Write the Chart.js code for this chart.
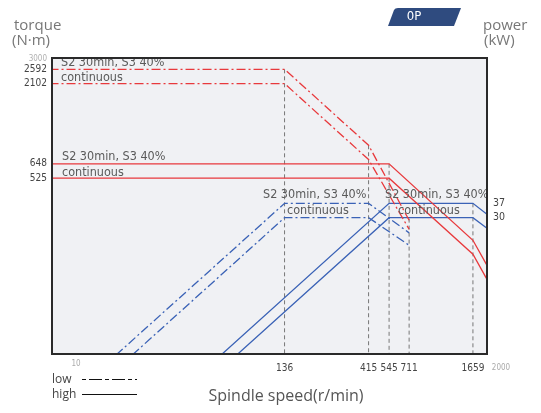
<!DOCTYPE html>
<html>
<head>
<meta charset="utf-8">
<script src="https://cdn.jsdelivr.net/npm/chart.js@4.4.1/dist/chart.umd.min.js"></script>
<style>
  html, body { margin: 0; padding: 0; background: #fff; }
  #wrap { width: 541px; height: 413px; position: relative; }
</style>
</head>
<body>
<div id="wrap"><canvas id="spindleChart"></canvas></div>
<script>
// tick labels
const speedTicks = [136, 415, 545, 711, 1659];
const speedEndLabels = [10, 2000];
const torqueTicks = [3000, 2592, 2102, 648, 525];
const powerTicks = [37, 30];

// low gear torque (dash-dot)
const lowTorqueSpeeds = [6, 136, 415, 711];
const lowS2Torque = [2592, 2592, 851, 283];
const lowContTorque = [2102, 2102, 690, 248];

// high gear torque (solid)
const highTorqueSpeeds = [6, 545, 1659, 2000];
const highS2Torque = [648, 648, 211, 146];
const highContTorque = [525, 525, 172, 119];

// power curves
const lowS2PowerSpeeds = [14.5, 136, 415, 711];
const lowS2Power = [4, 37, 37, 24];
const lowContPowerSpeeds = [18, 136, 415, 711];
const lowContPower = [4, 30, 30, 20];
const highS2PowerSpeeds = [58.5, 545, 1659, 2000];
const highS2Power = [4, 37, 37, 31.5];
const highContPowerSpeeds = [72, 545, 1659, 2000];
const highContPower = [4, 30, 30, 25.7];

// dashed guide lines (speed, torque at top end)
const guideSpeeds = [136, 415, 545, 711, 1659];
const guideTops = [2592, 851, 648, 290, 363];

const torqueMin = 39.8, torqueMax = 3060;
const powerMin = 4.06, powerMax = 312;
const speedMin = 6.2, speedMax = 2000;

const RED = '#e8393c';
const BLUE = '#3a62b6';
const DASHDOT = [9, 3, 2, 3];
const COND = '"DejaVu Sans Condensed", "DejaVu Sans", sans-serif';
const SANS = '"Open Sans", "Noto Sans", sans-serif';

function pts(xs, ys) {
    return xs.map((x, i) => ({ x: x, y: ys[i] }));
}

function curve(xs, ys, color, axis, dashed) {
    return {
        data: pts(xs, ys),
        yAxisID: axis,
        borderColor: color,
        borderWidth: 1.3,
        borderDash: dashed ? DASHDOT : [],
        pointRadius: 0,
        tension: 0,
        fill: false
    };
}

const guides = guideSpeeds.map((s, i) => ({
    data: [{ x: s, y: guideTops[i] }, { x: s, y: torqueMin }],
    yAxisID: 'y',
    borderColor: '#777',
    borderWidth: 1,
    borderDash: [4, 3],
    pointRadius: 0,
    fill: false
}));

const notes = [
    ['S2 30min, S3 40%', 61, 63], ['continuous', 61, 78],
    ['S2 30min, S3 40%', 62, 157], ['continuous', 62, 173],
    ['S2 30min, S3 40%', 263, 195], ['continuous', 287, 211],
    ['S2 30min, S3 40%', 385, 195], ['continuous', 398, 211]
];

const extras = {
    id: 'extras',
    beforeDatasetsDraw(chart) {
        const { ctx, chartArea: a } = chart;
        ctx.save();
        ctx.fillStyle = '#f0f1f4';
        ctx.fillRect(a.left, a.top, a.right - a.left, a.bottom - a.top);
        ctx.restore();
    },
    afterDatasetsDraw(chart) {
        const { ctx, chartArea: a } = chart;
        ctx.save();
        ctx.beginPath();
        ctx.rect(a.left, a.top, a.right - a.left, a.bottom - a.top);
        ctx.clip();
        ctx.fillStyle = '#5a5a5a';
        ctx.font = '12.5px ' + COND;
        ctx.textBaseline = 'middle';
        ctx.textAlign = 'left';
        notes.forEach(n => ctx.fillText(n[0], n[1], n[2]));
        ctx.restore();

        // frame
        ctx.save();
        ctx.strokeStyle = '#2a2a2a';
        ctx.lineWidth = 2;
        ctx.strokeRect(a.left, a.top, a.right - a.left, a.bottom - a.top);
        ctx.restore();
    },
    afterDraw(chart) {
        const ctx = chart.ctx;
        const xs = chart.scales.x;
        ctx.save();

        // axis titles
        ctx.fillStyle = '#777';
        ctx.font = '15px ' + SANS;
        ctx.textAlign = 'left';
        ctx.textBaseline = 'alphabetic';
        ctx.fillText('torque', 14, 30);
        ctx.fillText('(N\u00b7m)', 12, 45);
        ctx.fillText('power', 483, 30);
        ctx.fillText('(kW)', 484, 45);

        ctx.fillStyle = '#555';
        ctx.font = '16px ' + SANS;
        ctx.textAlign = 'center';
        ctx.fillText('Spindle speed(r/min)', 286, 401);

        // light end labels of the speed axis
        ctx.fillStyle = '#aaa';
        ctx.font = '8px ' + COND;
        ctx.textBaseline = 'middle';
        ctx.fillText(String(speedEndLabels[0]), xs.getPixelForValue(speedEndLabels[0]) - 12, 364);
        ctx.fillText(String(speedEndLabels[1]), xs.getPixelForValue(speedEndLabels[1]) + 14, 368);

        // legend
        ctx.fillStyle = '#444';
        ctx.font = '12px ' + SANS;
        ctx.textAlign = 'left';
        ctx.textBaseline = 'alphabetic';
        ctx.fillText('low', 52, 383);
        ctx.fillText('high', 52, 398);
        ctx.strokeStyle = '#111';
        ctx.lineWidth = 1.2;
        ctx.setLineDash([4, 3, 13, 3]);
        ctx.beginPath();
        ctx.moveTo(82, 379.5);
        ctx.lineTo(137, 379.5);
        ctx.stroke();
        ctx.setLineDash([]);
        ctx.beginPath();
        ctx.moveTo(82, 394.5);
        ctx.lineTo(137, 394.5);
        ctx.stroke();

        // OP badge
        ctx.fillStyle = '#2f4b7f';
        ctx.beginPath();
        ctx.moveTo(388, 26);
        ctx.lineTo(394, 10);
        ctx.quadraticCurveTo(395, 8, 398, 8);
        ctx.lineTo(461, 8);
        ctx.lineTo(454, 26);
        ctx.closePath();
        ctx.fill();
        ctx.fillStyle = '#fff';
        ctx.font = '13px ' + COND;
        ctx.textAlign = 'center';
        ctx.textBaseline = 'middle';
        ctx.fillText('0P', 414, 17);

        ctx.restore();
    }
};

new Chart(document.getElementById('spindleChart'), {
    type: 'line',
    plugins: [extras],
    data: {
        datasets: [
            curve(lowTorqueSpeeds, lowS2Torque, RED, 'y', true),
            curve(lowTorqueSpeeds, lowContTorque, RED, 'y', true),
            curve(highTorqueSpeeds, highS2Torque, RED, 'y', false),
            curve(highTorqueSpeeds, highContTorque, RED, 'y', false),
            curve(lowS2PowerSpeeds, lowS2Power, BLUE, 'y2', true),
            curve(lowContPowerSpeeds, lowContPower, BLUE, 'y2', true),
            curve(highS2PowerSpeeds, highS2Power, BLUE, 'y2', false),
            curve(highContPowerSpeeds, highContPower, BLUE, 'y2', false),
            ...guides
        ]
    },
    options: {
        responsive: true,
        maintainAspectRatio: false,
        animation: false,
        layout: { padding: { top: 58, left: 0, right: 0, bottom: 0 } },
        scales: {
            x: {
                type: 'logarithmic',
                min: speedMin,
                max: speedMax,
                bounds: 'data',
                grid: { display: false, drawTicks: false },
                border: { display: false },
                afterBuildTicks: s => { s.ticks = speedTicks.map(v => ({ value: v })); },
                afterFit: s => { s.height = 59; },
                ticks: {
                    autoSkip: false,
                    maxRotation: 0,
                    padding: 8,
                    color: '#444',
                    font: { family: COND, size: 10 },
                    callback: v => String(v)
                }
            },
            y: {
                type: 'logarithmic',
                position: 'left',
                min: torqueMin,
                max: torqueMax,
                bounds: 'data',
                grid: { display: false, drawTicks: false },
                border: { display: false },
                afterBuildTicks: s => { s.ticks = torqueTicks.map(v => ({ value: v })); },
                afterFit: s => { s.width = 52; },
                ticks: {
                    autoSkip: false,
                    padding: 5,
                    color: c => c.tick && c.tick.value === 3000 ? '#b0b0b0' : '#444',
                    font: c => ({ family: COND, size: c.tick && c.tick.value === 3000 ? 8 : 10 }),
                    callback: v => String(v)
                }
            },
            y2: {
                type: 'logarithmic',
                position: 'right',
                min: powerMin,
                max: powerMax,
                bounds: 'data',
                grid: { display: false, drawTicks: false },
                border: { display: false },
                afterBuildTicks: s => { s.ticks = powerTicks.map(v => ({ value: v })); },
                afterFit: s => { s.width = 54; },
                ticks: {
                    autoSkip: false,
                    padding: 6,
                    color: '#444',
                    font: { family: COND, size: 10.5 },
                    callback: v => String(v)
                }
            }
        },
        plugins: {
            legend: { display: false },
            tooltip: { enabled: false }
        }
    }
});
</script>
</body>
</html>
